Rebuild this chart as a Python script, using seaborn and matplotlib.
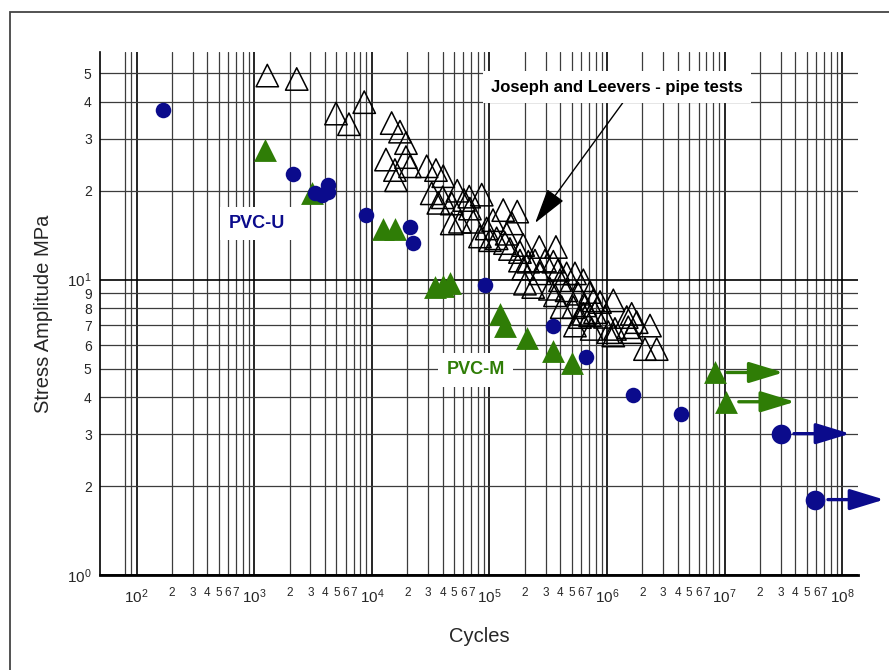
import numpy as np
import matplotlib
matplotlib.use("Agg")
import matplotlib.pyplot as plt
import seaborn as sns
from matplotlib.patches import Rectangle
from matplotlib.ticker import FixedLocator, FuncFormatter, LogLocator

# PVC-U (filled navy circles)
pvcu_cycles = [166, 2130, 3280, 3740, 4210, 4210, 8850, 21100, 22400,
               91600, 344000, 667000, 1.66e6, 4.23e6]
pvcu_stress = [37.6, 22.8, 19.6, 19.3, 20.9, 19.8, 16.5, 15.1, 13.3,
               9.6, 6.99, 5.46, 4.06, 3.50]
pvcu_runout_cycles = [3.03e7, 5.9e7]
pvcu_runout_stress = [3.01, 1.80]

# PVC-M (filled green triangles)
pvcm_cycles = [1233, 3100, 12400, 15700, 34400, 40500, 46100,
               123000, 136000, 208000, 347000, 507000, 8.2e6, 1.03e7]
pvcm_stress = [27.5, 19.6, 14.9, 14.9, 9.44, 9.54, 9.73,
               7.66, 6.96, 6.34, 5.75, 5.21, 4.85, 3.86]
pvcm_runout_cycles = [8.2e6, 1.03e7]
pvcm_runout_stress = [4.85, 3.86]

# Joseph and Leevers pipe tests (open triangles)
jl_cycles = [1291, 2296, 4955, 6383, 8614, 14730, 17340, 19500, 13180, 19500,
             15710, 16030, 21090, 29240, 35080, 40460, 32270, 40000, 53210, 36730,
             47750, 60670, 47750, 56100, 67300, 85900, 72800, 83000, 94600, 130900,
             172200, 140000, 181600, 213800, 193700, 115100, 100900, 135500, 193700, 265000,
             367300, 181600, 243800, 349100, 200400, 235500, 326600, 398100, 384600, 533300,
             628100, 360600, 452900, 568900, 716100, 411100, 516400, 648600, 763800, 588800,
             716100, 533300, 452900, 871000, 1.13e6, 788800, 628100, 739600, 1.023e6, 1.167e6,
             1.618e6, 1.469e6, 1.786e6, 1.514e6, 2.317e6, 2.099e6, 2.642e6, 1.618e6, 1.13e6,
             68200, 107200, 155200, 149300, 268700, 296500, 959400]
jl_stress = [49.1, 47.8, 36.5, 33.6, 39.9, 33.9, 31.7, 29.0, 25.5, 26.0,
             23.5, 21.7, 24.2, 24.2, 23.5, 22.4, 19.6, 19.0, 20.0, 18.2,
             18.1, 18.6, 15.5, 15.7, 19.1, 19.4, 15.7, 14.0, 14.9, 17.2,
             17.0, 14.3, 12.4, 11.5, 10.9, 13.8, 13.6, 13.3, 13.1, 12.9,
             12.9, 11.6, 11.6, 11.5, 9.69, 9.44, 9.31, 9.95, 10.8, 10.5,
             9.95, 8.85, 9.2, 8.96, 9.08, 8.07, 8.07, 8.18, 8.51, 7.47,
             7.56, 6.99, 10.5, 8.40, 8.51, 7.76, 7.66, 6.81, 6.64, 6.81,
             7.66, 7.47, 7.18, 6.90, 6.99, 5.82, 5.82, 6.64, 6.47,
             17.4, 15.9, 15.5, 12.7, 10.5, 11.6, 7.48]

NAVY = "#0b0b8c"
GREEN = "#2f7d06"

sns.set_style("white")
plt.rcParams["font.family"] = ["Liberation Sans", "DejaVu Sans"]
plt.rcParams["mathtext.default"] = "regular"

fig, ax = plt.subplots(figsize=(8.89, 6.70), dpi=100)
fig.subplots_adjust(left=100 / 889, right=858 / 889, bottom=95 / 670, top=618 / 670)

ax.set_xscale("log")
ax.set_yscale("log")

sns.scatterplot(x=jl_cycles, y=jl_stress, marker="^", s=260, facecolor="none",
                edgecolor="black", linewidth=1.1, ax=ax, zorder=3)
sns.scatterplot(x=pvcm_cycles, y=pvcm_stress, marker="^", s=270, color=GREEN,
                edgecolor=GREEN, linewidth=0, ax=ax, zorder=4)
sns.scatterplot(x=pvcu_cycles, y=pvcu_stress, marker="o", s=125, color=NAVY,
                edgecolor=NAVY, linewidth=0, ax=ax, zorder=5)
sns.scatterplot(x=pvcu_runout_cycles, y=pvcu_runout_stress, marker="o", s=200,
                color=NAVY, edgecolor=NAVY, linewidth=0, ax=ax, zorder=5)

# run-out arrows
for cyc, st, col in ([(c, s, GREEN) for c, s in zip(pvcm_runout_cycles, pvcm_runout_stress)]
                     + [(c, s, NAVY) for c, s in zip(pvcu_runout_cycles, pvcu_runout_stress)]):
    ax.annotate("", xy=(cyc * 3.85, st), xytext=(cyc * 1.28, st),
                arrowprops=dict(arrowstyle="-|>,head_length=1.05,head_width=0.32",
                                color=col, lw=2.4, mutation_scale=20,
                                shrinkA=0, shrinkB=0),
                annotation_clip=False, zorder=6)

ax.set_xlim(48.8, 1.36e8)
ax.set_ylim(1, 59)


def lead_digit(v):
    return int(round(v / 10 ** np.floor(np.log10(v))))


ax.xaxis.set_major_locator(LogLocator(base=10, numticks=20))
ax.xaxis.set_minor_locator(FixedLocator(
    [m * 10 ** d for d in range(1, 8) for m in range(2, 10) if m * 10 ** d >= 80]))
ax.xaxis.set_minor_formatter(FuncFormatter(
    lambda v, p: str(lead_digit(v)) if lead_digit(v) <= 7 and v > 100 else ""))
ax.yaxis.set_major_locator(LogLocator(base=10, numticks=20))
ax.yaxis.set_minor_locator(LogLocator(base=10, subs=range(2, 10), numticks=20))
ax.yaxis.set_minor_formatter(FuncFormatter(lambda v, p: str(lead_digit(v))))

ax.tick_params(axis="x", which="major", length=0, pad=9, labelsize=11)
ax.tick_params(axis="x", which="minor", length=0, pad=9, labelsize=8.5)
ax.tick_params(axis="y", which="major", length=0, pad=6, labelsize=11)
ax.tick_params(axis="y", which="minor", length=0, pad=6, labelsize=10)

ax.grid(True, which="major", color="black", lw=1.2)
ax.grid(True, which="minor", color="#3c3c3c", lw=0.9)
ax.set_axisbelow(True)

for side in ["top", "right"]:
    ax.spines[side].set_visible(False)
ax.spines["left"].set_linewidth(1.2)
ax.spines["left"].set_color("black")
ax.spines["bottom"].set_linewidth(2)
ax.spines["bottom"].set_color("black")

ax.set_xlabel("Cycles", fontsize=14.5, labelpad=15)
ax.set_ylabel("Stress Amplitude MPa", fontsize=14.5, labelpad=10)

box = dict(facecolor="white", edgecolor="none", pad=6)
ax.text(0.207, 0.672, "PVC-U", transform=ax.transAxes, ha="center", va="center",
        fontsize=13, fontweight="bold", color=NAVY, bbox=box, zorder=2.5)
ax.text(0.496, 0.392, "PVC-M", transform=ax.transAxes, ha="center", va="center",
        fontsize=13, fontweight="bold", color=GREEN, bbox=box, zorder=2.5)
ax.annotate("Joseph and Leevers - pipe tests", xy=(0.574, 0.673), xycoords="axes fraction",
            xytext=(0.682, 0.933), textcoords="axes fraction", ha="center", va="center",
            fontsize=12, fontweight="bold", color="black", bbox=box, zorder=2.5,
            arrowprops=dict(arrowstyle="-|>,head_length=1.6,head_width=0.45",
                            color="black", lw=1, mutation_scale=14, shrinkA=0, shrinkB=0,
                            relpos=(0.56, 0.3)))

fig.add_artist(Rectangle((10 / 889, -0.1), 1.2, (670 - 12) / 670 + 0.1,
                         transform=fig.transFigure, fill=False, lw=1.3, ec="#444444"))

plt.savefig("out.png", dpi=100)
